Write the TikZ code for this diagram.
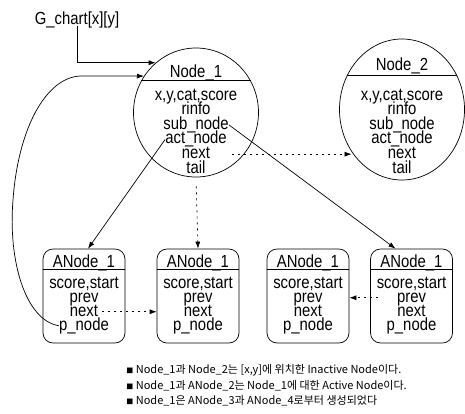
\documentclass[tikz,border=0pt]{standalone}
\usepackage{fontspec}
\usetikzlibrary{arrows.meta,positioning,calc,shapes.geometric}
\newfontfamily\narrowsf[FakeStretch=0.85]{Liberation Sans}
\newfontfamily\kofont{Noto Sans CJK KR}

\begin{document}
\begin{tikzpicture}[
  x=1pt, y=-1pt, line width=0.7pt,
  rec/.style={draw, ellipse, minimum width=125pt, inner sep=0pt},
  abox/.style={draw, rounded corners=10pt, minimum width=82pt, minimum height=94pt},
  fld/.style={font=\narrowsf\fontsize{17.5}{17.5}\selectfont, inner sep=0pt,
    text height=10pt, text depth=1.5pt},
  arr/.style={-{Latex[length=7pt,width=5pt]}},
  dotarr/.style={arr, dash pattern=on 2pt off 4pt},
  note/.style={font=\kofont\fontsize{11}{13}\selectfont, anchor=west, inner sep=0pt}
]
  \useasboundingbox (0,0) rectangle (465,413);

  % array entry
  \node[fld] (gc) at (77,20) {G\_chart[x][y]};

  % inactive nodes
  \node[rec, minimum height=129pt] (n1) at (196,112.5) {};
  \node[rec, minimum height=141pt] (n2) at (402,109.5) {};
  \node[fld, anchor=base] (n1h) at (196,77) {Node\_1};
  \node[fld, anchor=base] (n2h) at (402,70) {Node\_2};
  \draw (n1.150) -- (n1.30);
  \draw (n2.148) -- (n2.32);
  \foreach \cx [count=\j] in {196,402}
    \foreach \f [count=\k] in {{x,y,cat,score},rinfo,sub\_node,act\_node,next,tail}
      \node[fld, anchor=base] (n\j f\k) at (\cx,85.4+14.6*\k) {\f};

  % active nodes
  \foreach \x [count=\i] in {84,198,308,411.5} {
    \node[abox] (a\i) at (\x,296) {};
    \node[fld, anchor=base] (a\i h) at (\x,267) {ANode\_1};
    \draw ([yshift=-21pt]a\i.north west) -- ([yshift=-21pt]a\i.north east);
    \foreach \f [count=\k] in {{score,start},prev,next,p\_node}
      \node[fld, anchor=base] (a\i f\k) at (\x,274+14*\k) {\f};
  }

  % links
  \draw[arr] (gc.south) |- (n1.129);
  \draw[arr] (a1f4.west) .. controls (25,320) and (8,260) .. (13,200)
    .. controls (18,130) and (45,78) .. (80,76) -- (n1.145);
  \draw[arr] (n1f4.west) -- ([xshift=4pt]a1.north);
  \draw[arr] (n1f3.east) -- ([xshift=-16pt]a4.north);
  \draw[dotarr, shorten <=9pt] (n1.south) -- (a2.north);
  \draw[dotarr, shorten <=22pt] (n1f5.east) -- (n1f5.east -| n2.220);
  \draw[dotarr, shorten <=4pt] (a1f3.east) -- (a1f3.east -| a2.west);
  \draw[dotarr, shorten <=19pt] (a4f2.west) -- (a4f2.west -| a3.east);

  % notes
  \node[note] (t1) at (126,370) {{\fontsize{7}{7}\selectfont ■} Node\_1과 Node\_2는 [x,y]에 위치한 Inactive Node이다.};
  \node[note] (t2) at (126,386) {{\fontsize{7}{7}\selectfont ■} Node\_1과 ANode\_2는 Node\_1에 대한 Active Node이다.};
  \node[note] (t3) at (126,401) {{\fontsize{7}{7}\selectfont ■} Node\_1은 ANode\_3과 ANode\_4로부터 생성되었다};
\end{tikzpicture}
\end{document}
